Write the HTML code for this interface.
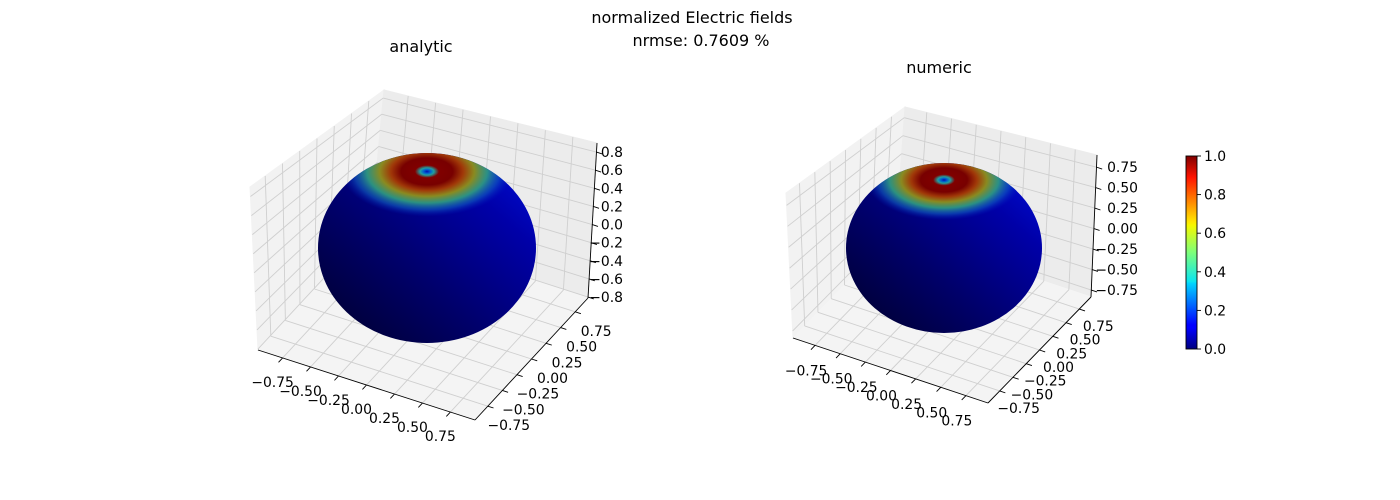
<!DOCTYPE html>
<html><head><meta charset="utf-8">
<style>
html,body{margin:0;padding:0;background:#fff;}
svg{display:block;font-family:"DejaVu Sans","Liberation Sans",sans-serif;}
</style></head>
<body>
<svg id="fig" width="1400" height="500" viewBox="0 0 1400 500" xmlns="http://www.w3.org/2000/svg">
<defs>
  <linearGradient id="shade" x1="0" y1="1" x2="1" y2="0">
    <stop offset="0" stop-color="#000028"/>
    <stop offset="0.4" stop-color="#00006a"/>
    <stop offset="0.75" stop-color="#0000a8"/>
    <stop offset="1" stop-color="#0010e0"/>
  </linearGradient>
  <radialGradient id="cap">
    <stop offset="0" stop-color="#0010b0"/>
    <stop offset="0.04" stop-color="#0060d0"/>
    <stop offset="0.08" stop-color="#20a0a0"/>
    <stop offset="0.14" stop-color="#800000"/>
    <stop offset="0.3" stop-color="#780000"/>
    <stop offset="0.42" stop-color="#a03808"/>
    <stop offset="0.55" stop-color="#8a8a20"/>
    <stop offset="0.7" stop-color="#30a080" stop-opacity="0.9"/>
    <stop offset="0.85" stop-color="#1060c0" stop-opacity="0.6"/>
    <stop offset="1" stop-color="#0020c0" stop-opacity="0"/>
  </radialGradient>
  <linearGradient id="jet" x1="0" y1="1" x2="0" y2="0">
    <stop offset="0" stop-color="#00007f"/>
    <stop offset="0.11" stop-color="#0000ff"/>
    <stop offset="0.125" stop-color="#0000ff"/>
    <stop offset="0.34" stop-color="#00d4ff"/>
    <stop offset="0.35" stop-color="#0ae5f0"/>
    <stop offset="0.5" stop-color="#7dff7a"/>
    <stop offset="0.64" stop-color="#f5f900"/>
    <stop offset="0.66" stop-color="#ffe600"/>
    <stop offset="0.89" stop-color="#ff1300"/>
    <stop offset="1" stop-color="#7f0000"/>
  </linearGradient>
</defs>
<text x="692" y="23" text-anchor="middle" font-size="16">normalized Electric fields</text>
<text x="701" y="46" text-anchor="middle" font-size="16">nrmse: 0.7609 %</text>
<text x="421" y="52" text-anchor="middle" font-size="16">analytic</text>
<text x="939" y="73" text-anchor="middle" font-size="16">numeric</text>
<g id="left"></g>
<g id="right"></g>
<g id="cbar"></g>
</svg>
<script>
// chart data
const xyTicks = [-0.75, -0.5, -0.25, 0, 0.25, 0.5, 0.75];
const xyLabels = ["\u22120.75", "\u22120.50", "\u22120.25", "0.00", "0.25", "0.50", "0.75"];
const zTicksLeft = [-0.8, -0.6, -0.4, -0.2, 0, 0.2, 0.4, 0.6, 0.8];
const zLabelsLeft = ["\u22120.8", "\u22120.6", "\u22120.4", "\u22120.2", "0.0", "0.2", "0.4", "0.6", "0.8"];
const zTicksRight = [-0.75, -0.5, -0.25, 0, 0.25, 0.5, 0.75];
const zLabelsRight = ["\u22120.75", "\u22120.50", "\u22120.25", "0.00", "0.25", "0.50", "0.75"];
const cbTicks = [0, 0.2, 0.4, 0.6, 0.8, 1.0];
const cbLabels = ["0.0", "0.2", "0.4", "0.6", "0.8", "1.0"];

const NS = "http://www.w3.org/2000/svg";
function mk(tag, attrs, parent) {
  const e = document.createElementNS(NS, tag);
  for (const k in attrs) e.setAttribute(k, attrs[k]);
  parent.appendChild(e);
  return e;
}
function lerp(a, b, t) { return [a[0] + (b[0] - a[0]) * t, a[1] + (b[1] - a[1]) * t]; }
function unit(a, b) { const dx = b[0] - a[0], dy = b[1] - a[1], n = Math.hypot(dx, dy); return [dx / n, dy / n]; }

function drawAxes(g, P, zTicks, zLabels, sph) {
  const xyScale = v => (v + 0.97) / 1.94;
  const zScale = v => (v - P.zmin) / (P.zmax - P.zmin);
  const L = P.L, F = P.F, R = P.R, B = [P.L[0] + P.R[0] - P.F[0], P.L[1] + P.R[1] - P.F[1]];
  const Lt = P.Lt, Bt = P.Bt, Rt = P.Rt;
  const pts = a => a.map(p => p[0] + "," + p[1]).join(" ");
  let e;
  e = mk("polygon", { points: pts([L, B, Bt, Lt]), fill: "#f2f2f2", stroke: "#f2f2f2" }, g);
  
  
  e = mk("polygon", { points: pts([B, R, Rt, Bt]), fill: "#ececec", stroke: "#ececec" }, g);
  
  
  e = mk("polygon", { points: pts([L, F, R, B]), fill: "#f4f4f4", stroke: "#f4f4f4" }, g);
  
  
  const gs = { stroke: "#cfcfcf", "stroke-width": 0.9 };
  const line = (a, b, st, name) => {
    const l = mk("line", Object.assign({ x1: a[0], y1: a[1], x2: b[0], y2: b[1] }, st), g);
    
    
    return l;
  };
  const ax = { stroke: "#000", "stroke-width": 0.9 };
  const dX = unit(B, L), dY = unit(L, F), dZ = unit(B, R);
  xyTicks.forEach((v, i) => {
    const t = xyScale(v);
    const xf = lerp(L, F, t), xb = lerp(B, R, t), xbt = lerp(Bt, Rt, t);
    line(xf, xb, gs, 'x-grid-floor');
    line(xb, xbt, gs, 'x-grid-back');
    const yl = lerp(L, B, t), yr = lerp(F, R, t), ylt = lerp(Lt, Bt, t);
    line(yl, yr, gs, 'y-grid-floor');
    line(yl, ylt, gs, 'y-grid-left');
    line(xf, [xf[0] + dX[0] * 6, xf[1] + dX[1] * 6], ax, 'x-tick');
    line(yr, [yr[0] + dY[0] * 6, yr[1] + dY[1] * 6], ax, 'y-tick');
    let tx = mk("text", { x: xf[0] + P.xo[0], y: xf[1] + P.xo[1], "text-anchor": "middle", "font-size": 13.9 }, g);
    tx.textContent = xyLabels[i];
    
    
    tx = mk("text", { x: yr[0] + P.yo[0], y: yr[1] + P.yo[1], "text-anchor": "middle", "font-size": 13.9 }, g);
    tx.textContent = xyLabels[i];
    
    
  });
  zTicks.forEach((v, i) => {
    const s = zScale(v);
    const zl = lerp(L, Lt, s), zb = lerp(B, Bt, s), zr = lerp(R, Rt, s);
    line(zl, zb, gs, 'z-grid-left');
    line(zb, zr, gs, 'z-grid-back');
    line(zr, [zr[0] + dZ[0] * 6, zr[1] + dZ[1] * 6], ax, 'z-tick');
    const tx = mk("text", { x: P.zx, y: zr[1] + 5, "text-anchor": "end", "font-size": 13.9 }, g);
    tx.textContent = zLabels[i];
    
    
  });
  line(L, F, ax, 'x-axis-line');
  line(F, R, ax, 'y-axis-line');
  line(R, Rt, ax, 'z-axis-line');
  const cid = "clip" + g.id;
  const cp = mk("clipPath", { id: cid }, g);
  mk("rect", { x: sph.cx - sph.rx - 2, y: sph.top, width: sph.rx * 2 + 4, height: sph.ry * 2 + 10 }, cp);
  const cid2 = "clipS" + g.id;
  const cp2 = mk("clipPath", { id: cid2 }, g);
  mk("ellipse", { cx: sph.cx, cy: sph.cy, rx: sph.rx, ry: sph.ry }, cp2);
  const sg = mk("g", { "clip-path": "url(#" + cid + ")" }, g);
  
  
  e = mk("ellipse", { cx: sph.cx, cy: sph.cy, rx: sph.rx, ry: sph.ry, fill: "url(#shade)" }, sg);
  
  
  const cg = mk("g", { "clip-path": "url(#" + cid2 + ")" }, sg);
  e = mk("ellipse", { cx: sph.px, cy: sph.py + sph.crY * 0.1, rx: sph.crX, ry: sph.crY, fill: "url(#cap)" }, cg);
  
  
}

drawAxes(document.getElementById("left"),
  { L: [258, 350], F: [475, 420], R: [588, 298], Lt: [250, 187], Bt: [384, 90], Rt: [597, 143],
    zmin: -0.81, zmax: 0.90, xo: [-10, 29], yo: [21, 24], zx: 623 },
  zTicksLeft, zLabelsLeft,
  { cx: 427, cy: 248, rx: 109, ry: 95, top: 153, px: 427, py: 167, crX: 86, crY: 45 });

drawAxes(document.getElementById("right"),
  { L: [793, 338], F: [988, 403], R: [1091, 297], Lt: [786, 193], Bt: [905, 107], Rt: [1097, 155],
    zmin: -0.835, zmax: 0.898, xo: [-9, 30], yo: [19, 22], zx: 1138 },
  zTicksRight, zLabelsRight,
  { cx: 944, cy: 248, rx: 98, ry: 85, top: 163, px: 944, py: 176, crX: 78, crY: 40 });

(function () {
  const g = document.getElementById("cbar");
  const x0 = 1186, x1 = 1197, yTop = 156, yBot = 349;
  const cbScale = v => yBot - (yBot - yTop) * v;
  let e = mk("rect", { x: x0, y: yTop, width: x1 - x0, height: yBot - yTop, fill: "url(#jet)", stroke: "#000", "stroke-width": 0.9 }, g);
  
  
  cbTicks.forEach((v, i) => {
    const y = cbScale(v);
    const l = mk("line", { x1: x1, y1: y, x2: x1 + 4, y2: y, stroke: "#000", "stroke-width": 0.9 }, g);
    
    
    const t = mk("text", { x: x1 + 7, y: y + 5, "font-size": 13.9 }, g);
    t.textContent = cbLabels[i];
    
    
  });
})();
</script>
</body></html>
